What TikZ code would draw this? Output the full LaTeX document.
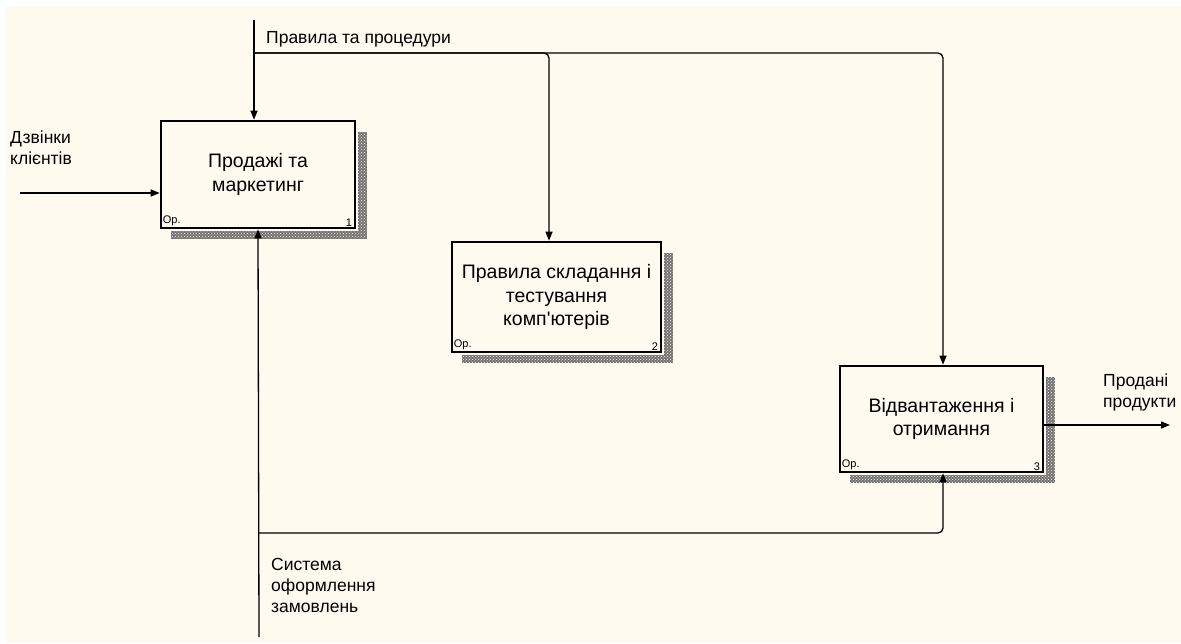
\documentclass[tikz,border=0pt]{standalone}
\usepackage{fontspec}
\setmainfont{Liberation Sans}[Ligatures=TeXOff]
\usetikzlibrary{arrows.meta,patterns,backgrounds}
\definecolor{paper}{HTML}{FFFAF0}
\tikzset{
  fn/.style={draw, line width=2.6pt, fill=paper, align=center, inner sep=0pt,
    font=\fontsize{19.5}{23.5}\selectfont},
  flow/.style={line width=1.3pt, -{Triangle[length=9pt,width=7pt]}},
  lbl/.style={anchor=north west, align=left, inner sep=0pt,
    font=\fontsize{17.5}{21}\selectfont},
  tag/.style={inner sep=0pt, font=\fontsize{11}{11}\selectfont},
  shade/.style={fill=black!55},
  dither/.style={pattern=crosshatch dots, pattern color=paper}
}
\newcommand{\boxshadow}[1]{%
  \foreach \s in {shade,dither}{
    \fill[\s] ([shift={(2,12)}]#1.north east) rectangle ([shift={(11,10)}]#1.south east);
    \fill[\s] ([shift={(11,2)}]#1.south west) rectangle ([shift={(2,10)}]#1.south east);
  }}
\begin{document}
\begin{tikzpicture}[x=1pt,y=-1pt]
\useasboundingbox (0,0) rectangle (1181,643);

% activity boxes
\node[fn, minimum width=194, minimum height=107] (b1) at (258,174.5)
  {Продажі та\\маркетинг};
\node[fn, minimum width=209, minimum height=110] (b2) at (556.5,297)
  {Правила складання і\\тестування\\комп'ютерів};
\node[fn, minimum width=203, minimum height=106] (b3) at (941.5,419)
  {Відвантаження і\\отримання};

% corner tags
\foreach \b/\n in {b1/1,b2/2,b3/3}{
  \node[tag, anchor=south west] (\b op) at ([shift={(3,-3)}]\b.south west) {Op.};
  \node[tag, anchor=south east] (\b nr) at ([shift={(-4,-3)}]\b.south east) {\n};
}

\begin{scope}[on background layer]
  \fill[white] (0,0) rectangle (1181,643);
  \fill[paper] (6,6) rectangle (1181,643);
  \boxshadow{b1}
  \boxshadow{b2}
  \boxshadow{b3}
\end{scope}

% free ends and bends of the arrows
\coordinate (ctrl) at (254,20);
\coordinate (cj) at (254,53);
\coordinate (c2) at (549,53);
\coordinate (c3) at (943,53);
\coordinate (inp) at (20,193);
\coordinate (outp) at (1170,425);
\coordinate (mech) at (259,637);
\coordinate (mj) at (259,533);
\coordinate (m3) at (943,533);

% control: rules and procedures
\draw[flow] (ctrl) -- (ctrl |- b1.north);
\draw[flow, rounded corners=5pt] (cj) -- (c2) -- (c2 |- b2.north);
\draw[flow, rounded corners=5pt] (cj) -- (c3) -- (c3 |- b3.north);
\node[lbl] (lctrl) at (266,31) {Правила та процедури};

% input: customer calls
\draw[flow] (inp) -- (b1.west |- inp);
\node[lbl] (linp) at (10,131) {Дзвінки\\клієнтів};

% output: sold products
\draw[flow] (b3.east |- outp) -- (outp);
\node[lbl] (lout) at (1103,374) {Продані\\продукти};

% mechanism: order processing system
\draw[flow] (mech) -- (b1.south);
\draw[flow, rounded corners=5pt] (mj) -- (m3) -- (m3 |- b3.south);
\node[lbl] (lmech) at (271,558) {Система\\оформлення\\замовлень};
\end{tikzpicture}
\end{document}
